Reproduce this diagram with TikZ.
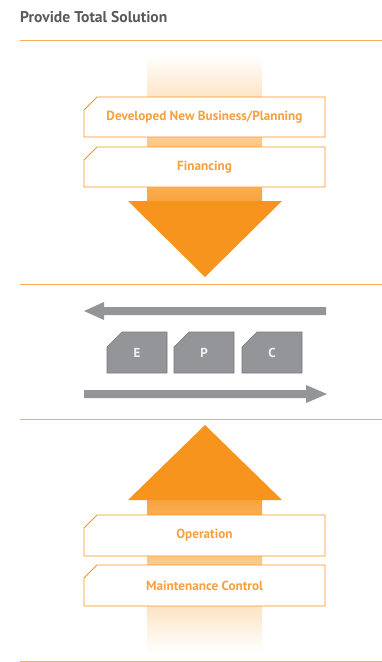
\documentclass[tikz,border=0pt]{standalone}
\usepackage{fontspec}
\setmainfont{PT Sans}
\definecolor{myorange}{HTML}{F7941D}
\definecolor{txtorange}{HTML}{F6A040}
\definecolor{linecol}{HTML}{F9AE55}
\definecolor{epcgray}{HTML}{939598}
\definecolor{epcedge}{HTML}{77787B}
\definecolor{titlegray}{HTML}{5A5A5A}
\newcommand\chambox[5]{% x1,y1,x2,y2,c
  \filldraw[obox] (#1,#2+#5) -- (#1+#5,#2) -- (#3,#2) -- (#3,#4) -- (#1,#4) -- cycle;}
\newcommand\epcbox[5]{%
  \filldraw[gbox] (#1,#2+#5) -- (#1+#5,#2) -- (#3,#2) -- (#3,#4) -- (#1,#4) -- cycle;}
\begin{document}
\begin{tikzpicture}[x=1pt,y=-1pt,
  sepline/.style={draw=linecol,line width=1pt},
  obox/.style={draw=myorange,fill=white,line width=0.9pt},
  gbox/.style={draw=epcedge,fill=epcgray,line width=0.6pt},
  otext/.style={text=txtorange,font=\bfseries\fontsize{13.2}{15}\selectfont,inner sep=0pt},
  gtext/.style={text=white!90!gray,font=\bfseries\fontsize{13}{15}\selectfont,inner sep=0pt},
  garrow/.style={fill=epcgray,draw=none}]
\useasboundingbox (0,0) rectangle (382,662);
% title
\node[anchor=west,inner sep=0pt,text=titlegray,font=\bfseries\fontsize{15.6}{18}\selectfont] (title) at (20,17) {Provide Total Solution};
% separator lines
\draw[sepline] (20,40) -- (382,40);
\draw[sepline] (20,284) -- (382,284);
\draw[sepline] (20,419) -- (382,419);
\draw[sepline] (20,661) -- (382,661);
% top bar with gradient
\shade[top color=white,bottom color=myorange!85!white,draw=none] (147,55) rectangle (262,201);
\fill[myorange] (128,201) -- (282,201) -- (205,277) -- cycle;
\chambox{84}{97}{325}{137}{13}
\chambox{84}{147}{325}{187}{13}
\node[otext] (dev) at (204.5,117) {Developed New Business/Planning};
\node[otext] (fin) at (204.5,167) {Financing};
% EPC
\fill[garrow] (326,307) -- (104,307) -- (104,302) -- (84,311) -- (104,320) -- (104,315) -- (326,315) -- cycle;
\fill[garrow] (84,390) -- (306,390) -- (306,385) -- (327,394) -- (306,403) -- (306,398) -- (84,398) -- cycle;
\epcbox{107}{332}{167}{373}{15}
\epcbox{174}{332}{234}{373}{15}
\epcbox{242}{332}{302}{373}{15}
\node[gtext] (e) at (137,353) {E};
\node[gtext] (p) at (204,353) {P};
\node[gtext] (c) at (272,353) {C};
% bottom bar
\shade[top color=myorange!85!white,bottom color=white,draw=none] (147,500) rectangle (262,652);
\fill[myorange] (128,500) -- (282,500) -- (205,425) -- cycle;
\chambox{84}{515}{325}{556}{13}
\chambox{84}{565}{325}{606}{13}
\node[otext] (op) at (204.5,535.5) {Operation};
\node[otext] (mc) at (204.5,585.5) {Maintenance Control};
\end{tikzpicture}
\end{document}
